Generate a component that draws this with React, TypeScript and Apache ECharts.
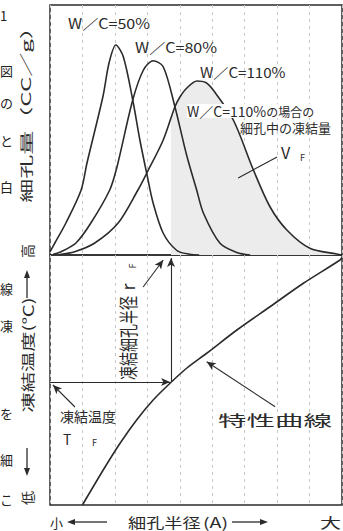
import React, { useEffect, useRef } from 'react';
import * as echarts from 'echarts';

// ---- data (x: pore-radius divisions 0..9, y: relative amount 0..100) ----
const xMin = 0;
const xMax = 9;
const yMin = 0;
const yMax = 100;

const wc50 = [[0, 1.3], [0.15, 4.8], [0.49, 12.8], [0.96, 26], [1.14, 36.8], [1.63, 63.3], [1.82, 76.8], [2.03, 84], [2.26, 79.3], [2.55, 62], [2.77, 46], [2.98, 32.7], [3.18, 20.7], [3.49, 8.7], [3.91, 1.8], [4.3, 0.3], [4.6, 0]];
const wc80 = [[0.1, 0.3], [0.34, 1.3], [0.8, 4.8], [1.26, 12.8], [1.84, 26], [2.06, 35], [2.55, 62], [2.88, 74], [3.18, 77.7], [3.49, 75.3], [3.85, 59.3], [4.21, 40], [4.52, 26], [4.73, 16.7], [5.24, 4.7], [5.76, 1], [6.17, 0]];
const wc110 = [[0.3, 0.2], [0.76, 1.3], [1.38, 4.8], [2.1, 12.8], [2.71, 26], [2.98, 32.7], [3.49, 46], [3.85, 59.3], [4.01, 63.3], [4.21, 66.7], [4.53, 69.6], [4.8, 69], [5.03, 66], [5.65, 54], [6.27, 34], [6.78, 19.3], [7.3, 10], [8.01, 2.7], [8.84, 0.4], [9.0, 0]];
const frozenVF = [[3.73, 54.8], [3.85, 59.3], [4.01, 63.3], [4.21, 66.7], [4.53, 69.6], [4.8, 69], [5.03, 66], [5.65, 54], [6.27, 34], [6.78, 19.3], [7.3, 10], [8.01, 2.7], [8.84, 0.4], [9.0, 0]];
const characteristic = [[1.0, 0], [1.64, 14], [2.16, 24.7], [2.67, 34], [3.18, 42], [3.7, 48.7], [4.21, 54.7], [4.83, 60.7], [5.76, 70], [6.78, 79.3], [7.81, 88.7], [8.94, 98], [9.0, 99]];

const freezeTempTF = 49.2; // y value of T_F in lower panel
const freezeRadiusRF = 3.73; // x value of r_F
const rfArrowTop = 98.8;

// annotation pointers (data coordinates)
const vfPointer = [[7.0, 39.2], [5.8, 30.8]];
const rfPointer = [[2.87, 87.2], [3.49, 98]];
const tfPointer = [[0.77, 39.2], [0.09, 48]];
const charPointer = [[6.94, 39.3], [4.83, 57.3]];

// texts
const seriesLabels = ['W／C=50%', 'W／C=80%', 'W／C=110%'];
const vfCaption1 = 'W／C=110%';
const vfCaption1b = 'の場合の';
const vfCaption2 = '細孔中の凍結量';
const yLabelTop = '細孔量（CC／g）';
const yLabelBottom = ['高', '凍結温度(℃)', '低'];
const xLabel = ['小', '細孔半径', '(A)', '大'];
const rfLabel = '凍結細孔半径';
const tfLabel = '凍結温度';
const charLabel = '特性曲線';
const pageChars = ['1', '図', 'の', 'と', '白', '線', '凍', 'を', '細', 'こ'];

const FONT = '"Noto Sans CJK JP", "Noto Sans", sans-serif';
const INK = '#2b2b2b';

function txt(text: string, x: number, y: number, size: number, o: any = {}) {
  return {
    type: 'text',
    x,
    y,
    rotation: o.rot || 0,
    scaleX: o.sx || 1,
    scaleY: o.sy || 1,
    z: 100,
    style: {
      text,
      fontSize: size,
      fontFamily: FONT,
      fill: o.fill || INK,
      align: o.align || 'left',
      verticalAlign: 'middle',
    },
  };
}

function arrowEls(x1: number, y1: number, x2: number, y2: number, len = 8, half = 3) {
  const dx = x2 - x1;
  const dy = y2 - y1;
  const L = Math.hypot(dx, dy);
  const ux = dx / L;
  const uy = dy / L;
  const bx = x2 - ux * len;
  const by = y2 - uy * len;
  return [
    { type: 'line', z: 100, shape: { x1, y1, x2: bx, y2: by }, style: { stroke: INK, lineWidth: 1.3 } },
    {
      type: 'polygon',
      z: 100,
      shape: { points: [[x2, y2], [bx - uy * half, by + ux * half], [bx + uy * half, by - ux * half]] },
      style: { fill: INK },
    },
  ];
}

const pageCharY = [15, 70, 102, 140, 186, 288, 325, 413, 459, 499];

function buildOption() {
  const R = Math.PI / 2;
  const graphic: any[] = [
    txt(seriesLabels[0], 68, 23, 14, { sx: 1.15 }),
    txt(seriesLabels[1], 135, 47, 14, { sx: 1.15 }),
    txt(seriesLabels[2], 200, 72, 14, { sx: 1.08 }),
    {
      type: 'text',
      x: 187,
      y: 111,
      z: 100,
      style: {
        text: '{a|' + vfCaption1 + '}{b|' + vfCaption1b + '}',
        fontFamily: FONT,
        fill: INK,
        verticalAlign: 'middle',
        backgroundColor: '#fff',
        rich: {
          a: { fontSize: 14, fontFamily: FONT, fill: INK },
          b: { fontSize: 12, fontFamily: FONT, fill: INK },
        },
      },
    },
    txt(vfCaption2, 240, 127.5, 13),
    txt('V', 281, 152, 16),
    txt('F', 300, 157, 9),
    // lower panel labels
    txt(rfLabel, 127, 338, 14, { rot: R, align: 'center', sy: 1.4 }),
    txt('r', 127, 287, 18, { rot: R, align: 'center' }),
    txt('F', 132, 266, 9, { rot: R, align: 'center' }),
    txt(tfLabel, 60, 416, 14),
    txt('T', 63, 439, 14),
    txt('F', 92, 442, 9),
    txt(charLabel, 218, 420, 15, { sx: 1.9 }),
    // left axis labels
    txt(yLabelTop, 26, 109, 13, { rot: R, align: 'center', sx: 1.85 }),
    txt(yLabelBottom[0], 27, 251, 14, { rot: R, align: 'center' }),
    txt(yLabelBottom[1], 27, 355, 14, { rot: R, align: 'center', sx: 1.45 }),
    txt(yLabelBottom[2], 27, 498, 14, { rot: R, align: 'center' }),
    ...arrowEls(27, 298, 27, 270),
    ...arrowEls(27, 448, 27, 476),
    // bottom axis label
    txt(xLabel[0], 50, 522, 13),
    ...arrowEls(107, 522, 67, 522),
    txt(xLabel[1], 128, 522, 14, { sx: 1.3 }),
    txt(xLabel[2], 203, 522, 14, { sx: 1.4 }),
    ...arrowEls(232, 522, 268, 522),
    txt(xLabel[3], 320, 522, 14, { sx: 1.5 }),
  ];
  pageChars.forEach((c, i) => {
    graphic.push(txt(c, 0, pageCharY[i], 13, { fill: '#222' }));
  });

  const axisX = (gridIndex: number) => ({
    gridIndex,
    type: 'value',
    min: xMin,
    max: xMax,
    interval: 1,
    axisLine: { show: false },
    axisTick: { show: false },
    axisLabel: { show: false },
    splitLine: { show: true, lineStyle: { color: '#c8c8c8', type: [3, 4], width: 1 } },
  });
  const axisY = (gridIndex: number) => ({ gridIndex, type: 'value', min: yMin, max: yMax, show: false });

  const curve = (name: string, data: number[][], extra: any = {}) => ({
    name,
    type: 'line',
    xAxisIndex: 0,
    yAxisIndex: 0,
    data,
    smooth: 0.3,
    symbol: 'none',
    lineStyle: { color: INK, width: 1.6 },
    z: 3,
    emphasis: { disabled: true },
    ...extra,
  });

  const ml = (pairs: any[]) => ({
    silent: true,
    symbol: ['none', 'arrow'],
    symbolSize: [6, 9],
    label: { show: false },
    emphasis: { disabled: true },
    lineStyle: { color: INK, width: 1.1, type: 'solid' },
    data: pairs,
  });

  return {
    animation: false,
    backgroundColor: '#fff',
    grid: [
      { left: 50, top: 5, width: 292, height: 250, show: true, borderColor: INK, borderWidth: 1.5 },
      { left: 50, top: 255, width: 292, height: 250, show: true, borderColor: INK, borderWidth: 1.5 },
    ],
    xAxis: [axisX(0), axisX(1)],
    yAxis: [axisY(0), axisY(1)],
    graphic,
    series: [
      {
        name: 'VF',
        type: 'line',
        xAxisIndex: 0,
        yAxisIndex: 0,
        data: frozenVF,
        smooth: 0.3,
        symbol: 'none',
        lineStyle: { width: 0 },
        areaStyle: { color: '#ececec', opacity: 1 },
        z: 1,
        emphasis: { disabled: true },
      },
      curve(seriesLabels[0], wc50),
      curve(seriesLabels[1], wc80),
      curve(seriesLabels[2], wc110, {
        markLine: {
          ...ml([[{ coord: vfPointer[0] }, { coord: vfPointer[1] }]]),
          symbol: ['none', 'none'],
        },
      }),
      {
        name: charLabel,
        type: 'line',
        xAxisIndex: 1,
        yAxisIndex: 1,
        data: characteristic,
        smooth: 0.3,
        symbol: 'none',
        lineStyle: { color: INK, width: 1.6 },
        z: 3,
        emphasis: { disabled: true },
        markLine: ml([
          [{ coord: [xMin, freezeTempTF] }, { coord: [freezeRadiusRF - 0.03, freezeTempTF] }],
          [{ coord: [freezeRadiusRF, freezeTempTF] }, { coord: [freezeRadiusRF, rfArrowTop] }],
          [{ coord: rfPointer[0] }, { coord: rfPointer[1] }],
          [{ coord: tfPointer[0] }, { coord: tfPointer[1] }],
          [{ coord: charPointer[0] }, { coord: charPointer[1] }],
        ]),
      },
    ],
  };
}

export default function App() {
  const ref = useRef<HTMLDivElement>(null);
  useEffect(() => {
    const chart = echarts.init(ref.current!, null, { renderer: 'svg' });
    chart.setOption(buildOption() as any);
    return () => chart.dispose();
  }, []);
  return (
    <div
      ref={ref}
      style={{ position: 'fixed', left: 0, top: 0, width: 343, height: 531, background: '#fff' }}
    />
  );
}
